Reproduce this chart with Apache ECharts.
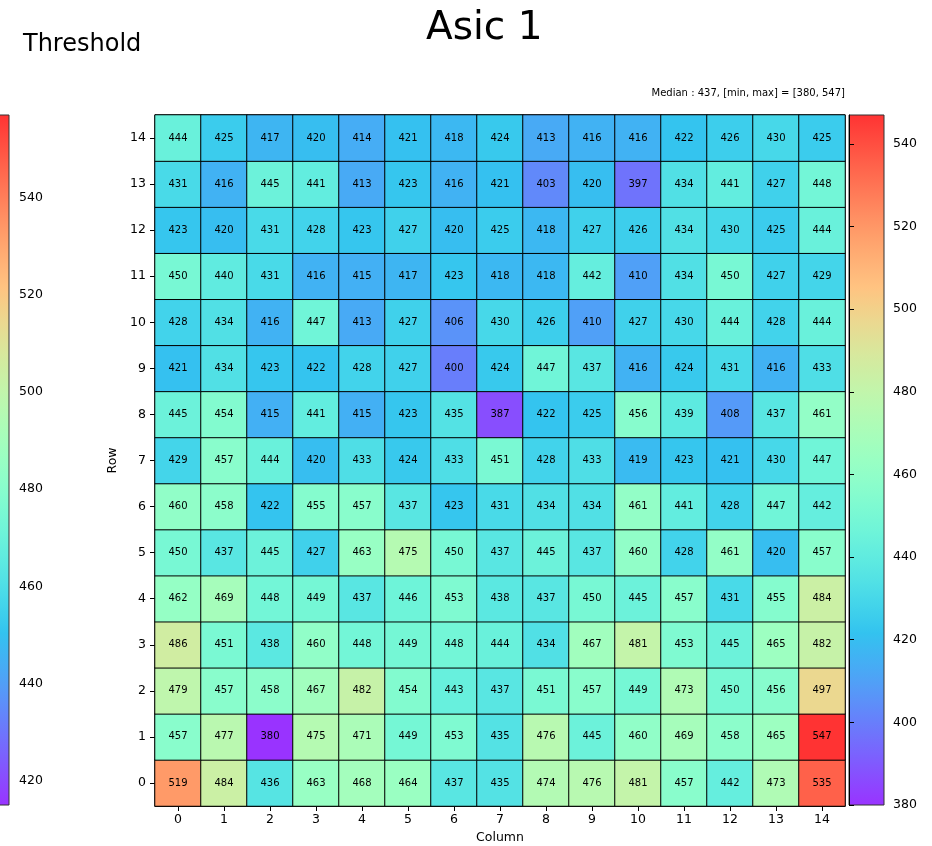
<!DOCTYPE html>
<html>
<head>
<meta charset="utf-8">
<script src="https://cdn.jsdelivr.net/npm/echarts@6/dist/echarts.min.js"></script>
<style>
html,body{margin:0;padding:0;background:#fff;}
#chart{width:932px;height:846px;}
</style>
</head>
<body>
<div id="chart"></div>
<script>
// ---- data ----
const columns = ['0','1','2','3','4','5','6','7','8','9','10','11','12','13','14'];
const rows = ['0','1','2','3','4','5','6','7','8','9','10','11','12','13','14'];
// values listed from row 14 (top) down to row 0 (bottom)
const row14 = [444,425,417,420,414,421,418,424,413,416,416,422,426,430,425];
const row13 = [431,416,445,441,413,423,416,421,403,420,397,434,441,427,448];
const row12 = [423,420,431,428,423,427,420,425,418,427,426,434,430,425,444];
const row11 = [450,440,431,416,415,417,423,418,418,442,410,434,450,427,429];
const row10 = [428,434,416,447,413,427,406,430,426,410,427,430,444,428,444];
const row9  = [421,434,423,422,428,427,400,424,447,437,416,424,431,416,433];
const row8  = [445,454,415,441,415,423,435,387,422,425,456,439,408,437,461];
const row7  = [429,457,444,420,433,424,433,451,428,433,419,423,421,430,447];
const row6  = [460,458,422,455,457,437,423,431,434,434,461,441,428,447,442];
const row5  = [450,437,445,427,463,475,450,437,445,437,460,428,461,420,457];
const row4  = [462,469,448,449,437,446,453,438,437,450,445,457,431,455,484];
const row3  = [486,451,438,460,448,449,448,444,434,467,481,453,445,465,482];
const row2  = [479,457,458,467,482,454,443,437,451,457,449,473,450,456,497];
const row1  = [457,477,380,475,471,449,453,435,476,445,460,469,458,465,547];
const row0  = [519,484,436,463,468,464,437,435,474,476,481,457,442,473,535];
const gridRows = [row0,row1,row2,row3,row4,row5,row6,row7,row8,row9,row10,row11,row12,row13,row14];

const colorMin = 380, colorMax = 547;
const rightTicks = [380,400,420,440,460,480,500,520,540];
const leftMin = 415, leftMax = 557;
const leftTicks = [420,440,460,480,500,520,540];

const titleText = 'Asic 1';
const sideText = 'Threshold';
const statText = 'Median : 437, [min, max] = [380, 547]';

// ---- colormap (matplotlib "rainbow", alpha 0.8 on white) ----
function rainbow(t){
  const cl = v => Math.max(0, Math.min(1, v));
  const r = cl(Math.abs(2*t - 0.5));
  const g = cl(Math.sin(Math.PI*t));
  const b = cl(Math.cos(Math.PI*t/2));
  const f = v => Math.round((v*0.8 + 0.2)*255);
  return 'rgb(' + f(r) + ',' + f(g) + ',' + f(b) + ')';
}
const N = 40;
const rampColors = [];
const stops = [];
for (let i = 0; i <= N; i++) {
  rampColors.push(rainbow(i/N));
  stops.push({offset: i/N, color: rainbow(i/N)});
}
const barGradient = {type:'linear', x:0, y:1, x2:0, y2:0, colorStops: stops};

const heatData = [];
gridRows.forEach((vals, r) => vals.forEach((v, c) => heatData.push([c, r, v])));

const FONT = 'DejaVu Sans';
const chart = echarts.init(document.getElementById('chart'), null, {renderer:'canvas'});

const cbarAxis = (min, max, ticks, idx, margin) => ({
  type:'value', gridIndex: idx, min: min, max: max, position:'right',
  axisLine:{show:true, lineStyle:{color:'#000', width:1}},
  axisTick:{show:true, length:5, lineStyle:{color:'#000'}, customValues: ticks},
  axisLabel:{show:true, fontSize:12.5, color:'#000', fontFamily:FONT, margin:margin, customValues: ticks},
  splitLine:{show:false}
});

chart.setOption({
  animation:false,
  backgroundColor:'#fff',
  textStyle:{fontFamily:FONT},
  title:[
    {text:titleText, left:421, top:4, textStyle:{fontSize:39, fontWeight:'normal', color:'#000', fontFamily:FONT}},
    {text:sideText, left:18, top:28, textStyle:{fontSize:24, fontWeight:'normal', color:'#000', fontFamily:FONT}},
    {text:statText, right:82, top:83, textStyle:{fontSize:10, fontWeight:'normal', color:'#000', fontFamily:FONT}}
  ],
  grid:[
    {left:155, top:115, width:690, height:691, show:true, borderColor:'#000', borderWidth:1, backgroundColor:'transparent', outerBoundsMode:'none', containLabel:false},
    {left:849, top:115, width:35, height:690, show:true, borderColor:'#333', borderWidth:1, backgroundColor: barGradient, outerBoundsMode:'none', containLabel:false},
    {left:-26, top:115, width:35, height:690, show:true, borderColor:'#333', borderWidth:1, backgroundColor: barGradient, outerBoundsMode:'none', containLabel:false}
  ],
  xAxis:[
    {type:'category', gridIndex:0, data:columns, name:'Column', nameLocation:'middle', nameGap:25,
     nameTextStyle:{fontSize:12.5, color:'#000', fontFamily:FONT},
     axisLine:{show:true, lineStyle:{color:'#000'}},
     axisTick:{show:true, alignWithLabel:true, length:5, lineStyle:{color:'#000'}},
     axisLabel:{fontSize:12.5, color:'#000', margin:7, fontFamily:FONT},
     splitLine:{show:false}, splitArea:{show:false}},
    {type:'value', gridIndex:1, show:false, min:0, max:1},
    {type:'value', gridIndex:2, show:false, min:0, max:1}
  ],
  yAxis:[
    {type:'category', gridIndex:0, data:rows, name:'Row', nameLocation:'middle', nameGap:33, nameRotate:90,
     nameTextStyle:{fontSize:12.5, color:'#000', fontFamily:FONT},
     axisLine:{show:true, lineStyle:{color:'#000'}},
     axisTick:{show:true, alignWithLabel:true, length:5, lineStyle:{color:'#000'}},
     axisLabel:{fontSize:12.5, color:'#000', margin:9, fontFamily:FONT},
     splitLine:{show:false}, splitArea:{show:false}},
    cbarAxis(colorMin, colorMax, rightTicks, 1, 9),
    cbarAxis(leftMin, leftMax, leftTicks, 2, 10)
  ],
  visualMap:{type:'continuous', show:false, min:colorMin, max:colorMax, dimension:2, seriesIndex:0,
    inRange:{color: rampColors}},
  series:[
    {type:'heatmap', xAxisIndex:0, yAxisIndex:0, data:heatData,
     label:{show:true, fontSize:10, color:'#000', fontFamily:FONT},
     itemStyle:{borderColor:'#000', borderWidth:1},
     emphasis:{disabled:true}},
    {type:'scatter', xAxisIndex:1, yAxisIndex:1, data:[], silent:true},
    {type:'scatter', xAxisIndex:2, yAxisIndex:2, data:[], silent:true}
  ]
});
</script>
</body>
</html>
